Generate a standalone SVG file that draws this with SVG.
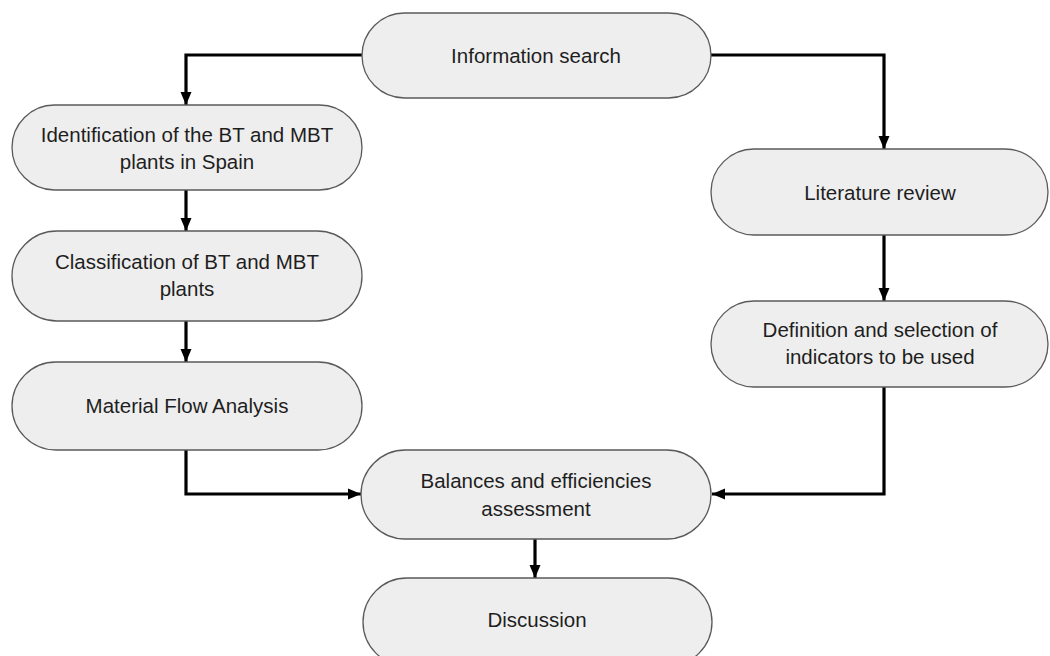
<svg xmlns="http://www.w3.org/2000/svg" width="1050" height="656" viewBox="0 0 1050 656">
<defs>
<style>
.node rect{fill:#eeeeee;stroke:#5a5a5a;stroke-width:1.3}
.node text{font-family:"Liberation Sans",Arial,sans-serif;font-size:20.5px;fill:#1e1e1e;text-anchor:middle}
.conn path{fill:none;stroke:#000;stroke-width:3.2;marker-end:url(#ah)}
</style>
<marker id="ah" markerUnits="userSpaceOnUse" markerWidth="14" markerHeight="14" viewBox="0 0 14 14" refX="13" refY="7" orient="auto">
<path d="M0,1.5 L13,7 L0,12.5 Z" fill="#000"/>
</marker>
</defs>
<rect width="1050" height="656" fill="#fff"/>
<g class="conn">
<path d="M362,55 H186 V105"/>
<path d="M711,55 H884 V149"/>
<path d="M186,190 V231"/>
<path d="M186,321 V362"/>
<path d="M884,235 V301"/>
<path d="M186,450 V494 H361"/>
<path d="M884,387 V494 H712"/>
<path d="M535,539 V578"/>
</g>
<g id="info" class="node"><rect x="362" y="13" width="349" height="85" rx="42.5"/><text x="536" y="63">Information search</text></g>
<g id="ident" class="node"><rect x="12" y="105" width="350" height="85" rx="42.5"/><text x="187" y="142">Identification of the BT and MBT</text><text x="187" y="169">plants in Spain</text></g>
<g id="class" class="node"><rect x="12" y="231" width="350" height="90" rx="45"/><text x="187" y="269">Classification of BT and MBT</text><text x="187" y="296">plants</text></g>
<g id="mfa" class="node"><rect x="12" y="362" width="350" height="88" rx="44"/><text x="187" y="413">Material Flow Analysis</text></g>
<g id="lit" class="node"><rect x="711" y="149" width="337" height="86" rx="43"/><text x="880" y="200">Literature review</text></g>
<g id="def" class="node"><rect x="711" y="301" width="337" height="86" rx="43"/><text x="880" y="337">Definition and selection of</text><text x="880" y="364">indicators to be used</text></g>
<g id="bal" class="node"><rect x="361" y="450" width="350" height="89" rx="44.5"/><text x="536" y="488">Balances and efficiencies</text><text x="536" y="516">assessment</text></g>
<g id="disc" class="node"><rect x="363" y="578" width="349" height="88" rx="44"/><text x="537" y="627">Discussion</text></g>
</svg>
